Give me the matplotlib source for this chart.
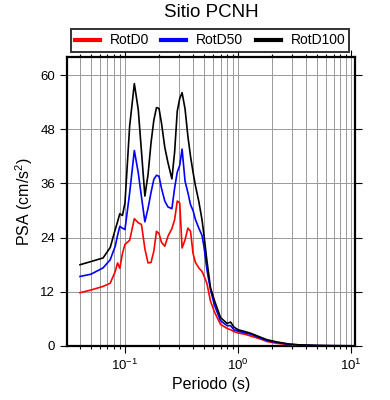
import matplotlib
matplotlib.use("Agg")
import matplotlib.pyplot as plt
from matplotlib.ticker import LogLocator, MultipleLocator, NullFormatter

plt.rcParams['font.family'] = ['Liberation Sans', 'DejaVu Sans']
plt.rcParams['mathtext.fontset'] = 'custom'
plt.rcParams['mathtext.rm'] = 'Liberation Sans'

periods = [0.04, 0.05, 0.064, 0.074, 0.082, 0.086, 0.09, 0.095, 0.1, 0.11, 0.121, 0.131,
           0.14, 0.15, 0.16, 0.17, 0.18, 0.19, 0.2, 0.21, 0.225, 0.24, 0.26, 0.275, 0.29,
           0.305, 0.32, 0.34, 0.36, 0.38, 0.40, 0.42, 0.45, 0.48, 0.50, 0.53, 0.57, 0.62,
           0.7, 0.8, 0.86, 0.92, 1.0, 1.15, 1.3, 1.6, 1.8, 2.2, 2.8, 3.5, 5.0, 7.0, 10.0]

rotd100 = [18.0, 18.7, 19.5, 21.8, 25.8, 27.5, 29.3, 28.9, 31.7, 48.7, 58.1, 52.4,
           43.0, 33.2, 38.0, 45.0, 50.0, 52.8, 52.6, 49.5, 44.0, 40.6, 37.0, 43.0, 52.0,
           54.8, 56.1, 52.5, 46.5, 42.0, 38.5, 35.5, 32.0, 28.0, 24.5, 19.0, 13.0, 10.0,
           6.3, 5.0, 5.3, 4.2, 3.6, 3.2, 2.8, 1.9, 1.4, 0.9, 0.45, 0.25, 0.12, 0.07, 0.05]

rotd50 = [15.4, 15.9, 17.3, 19.1, 22.1, 24.5, 26.5, 26.1, 25.8, 33.9, 43.3, 38.4,
          33.0, 27.5, 30.5, 34.0, 36.9, 37.8, 37.6, 35.0, 32.1, 30.8, 30.4, 35.0, 38.5,
          40.0, 43.6, 36.5, 34.0, 31.3, 30.0, 28.0, 26.1, 24.5, 22.0, 17.0, 12.5, 9.0,
          5.6, 4.5, 4.5, 3.6, 3.3, 2.9, 2.6, 1.7, 1.2, 0.8, 0.4, 0.2, 0.1, 0.06, 0.04]

rotd0 = [11.8, 12.4, 13.2, 13.9, 16.5, 18.4, 17.2, 20.5, 22.5, 23.4, 28.2, 27.3,
         26.9, 21.5, 18.4, 18.5, 21.0, 25.4, 24.9, 23.0, 22.1, 24.3, 26.0, 28.0, 32.1,
         31.7, 21.7, 23.5, 26.1, 25.4, 20.5, 18.5, 17.3, 16.5, 15.5, 13.9, 10.0, 7.5,
         4.8, 3.9, 3.6, 3.2, 2.9, 2.6, 2.2, 1.5, 1.0, 0.6, 0.3, 0.15, 0.08, 0.05, 0.03]

series_names = ['RotD0', 'RotD50', 'RotD100']
series_colors = ['#ff0000', '#0000ff', '#000000']
series_values = [rotd0, rotd50, rotd100]

fig = plt.figure(figsize=(3.9, 4.0), dpi=100)
ax = fig.add_axes([0.1718, 0.135, 0.7385, 0.7225])

for name, col, vals in zip(series_names, series_colors, series_values):
    ax.plot(periods, vals, color=col, lw=1.2, label=name, zorder=3)

ax.set_xscale('log')
ax.set_xlim(0.0307, 10.84)
ax.set_ylim(0, 64)
ax.xaxis.set_major_locator(LogLocator(base=10, numticks=10))
ax.xaxis.set_minor_locator(LogLocator(base=10, subs=range(2, 10), numticks=20))
ax.xaxis.set_minor_formatter(NullFormatter())
ax.yaxis.set_major_locator(MultipleLocator(12))

ax.grid(True, which='both', axis='x', color='#999999', lw=0.7)
ax.grid(True, which='major', axis='y', color='#999999', lw=0.7)
ax.set_axisbelow(True)

ax.tick_params(which='both', direction='out', top=True, right=True, labelsize=9.5, width=0.8)
ax.tick_params(which='major', length=5)
ax.tick_params(which='minor', length=2.5)
for s in ax.spines.values():
    s.set_linewidth(1.6)

ax.set_xlabel('Periodo (s)', fontsize=11.5, labelpad=3)
ax.set_ylabel('PSA (cm/s$^2$)', fontsize=11.5, labelpad=4)

fig.text(0.541, 0.968, 'Sitio PCNH', ha='center', va='center', fontsize=13.5)

leg = ax.legend(loc='center', bbox_to_anchor=(0.5385, 0.899), bbox_transform=fig.transFigure,
                ncol=3, fontsize=10, frameon=True, fancybox=False, edgecolor='black',
                handlelength=1.8, handletextpad=0.7, columnspacing=0.9, borderpad=0.3,
                borderaxespad=0)
leg.get_frame().set_linewidth(1.4)
for h in leg.get_lines():
    h.set_linewidth(3)

fig.savefig('out.png', dpi=100)
